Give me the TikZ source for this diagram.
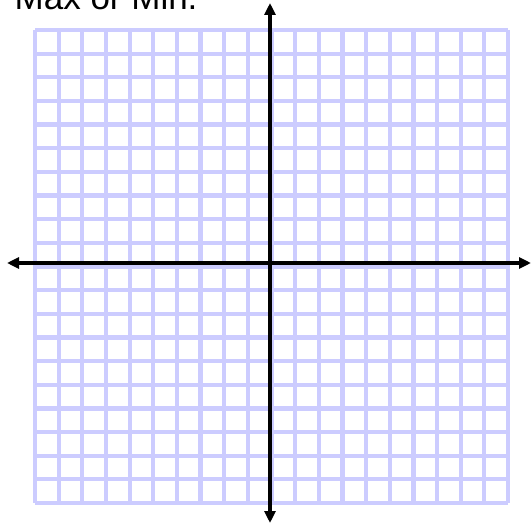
\documentclass[tikz,border=0pt]{standalone}
\usepackage{fontspec}
\setmainfont{Liberation Sans}
\usetikzlibrary{arrows.meta}
\definecolor{gridblue}{RGB}{204,204,255}
\tikzset{
  gridline/.style={draw=gridblue, line width=4.2pt},
  axisline/.style={draw=black, line width=4pt, {Triangle[width=11pt,length=12pt]}-{Triangle[width=11pt,length=12pt]}},
  titletext/.style={inner sep=0pt, anchor=base west, font=\fontsize{35}{40}\selectfont}
}
\begin{document}
\begin{tikzpicture}[x=1pt,y=-1pt]
\useasboundingbox (0,0) rectangle (531,524);
% grid
\foreach \i in {0,...,20}{
  \draw[gridline] ({35+\i*23.65},30) -- ({35+\i*23.65},503);
  \draw[gridline] (35,{30+\i*23.65}) -- (508,{30+\i*23.65});
}
% axes
\coordinate (ytop) at (270,3);
\coordinate (ybot) at (270,523);
\coordinate (xleft) at (7,263);
\coordinate (xright) at (531,263);
\draw[axisline] (ybot) -- (ytop);
\draw[axisline] (xleft) -- (xright);
% title
\node[titletext] (title) at (14.5,10) {Max or Min.};
\end{tikzpicture}
\end{document}
